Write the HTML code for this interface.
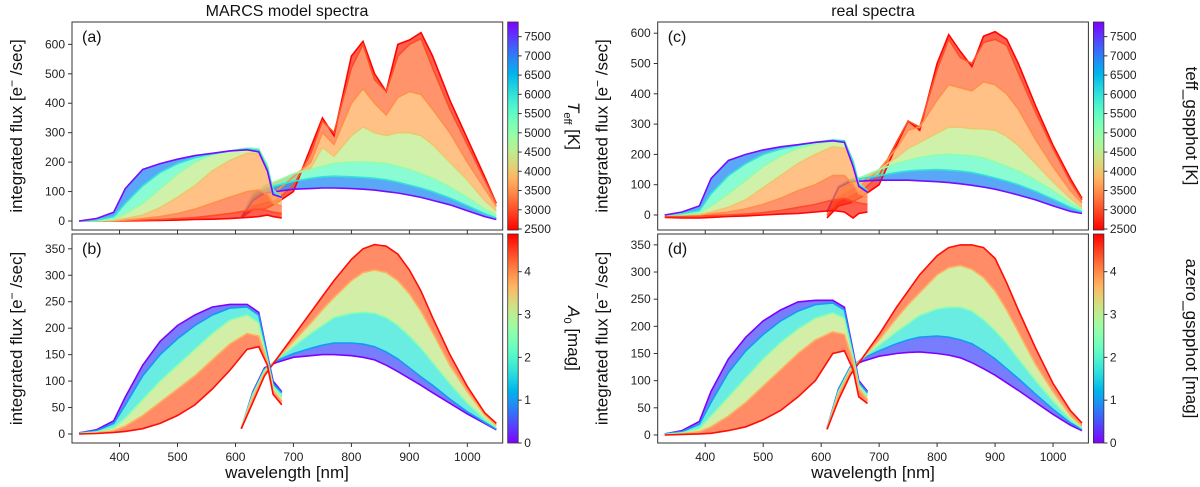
<!DOCTYPE html>
<html><head><meta charset="utf-8">
<style>
html,body{margin:0;padding:0;background:#fff;}
svg{display:block;font-family:"Liberation Sans","DejaVu Sans",sans-serif;}
</style></head>
<body>
<svg id="fig" width="1200" height="487" viewBox="0 0 1200 487" xmlns="http://www.w3.org/2000/svg">
<defs>
<linearGradient id="cbTeff" x1="0" y1="1" x2="0" y2="0"></linearGradient>
<linearGradient id="cbA0" x1="0" y1="1" x2="0" y2="0"></linearGradient>
</defs>
<text x="287" y="16" font-size="16" text-anchor="middle" fill="#111">MARCS model spectra</text>
<text x="873" y="16" font-size="16" text-anchor="middle" fill="#111">real spectra</text>
<text x="287" y="478" font-size="17" text-anchor="middle" fill="#111">wavelength [nm]</text>
<text x="873" y="478" font-size="17" text-anchor="middle" fill="#111">wavelength [nm]</text>
</svg>
<script>
// ---- shared grids ----
const bpWave = [330,360,390,410,440,470,500,530,560,590,620,640,655,665,680];
const rpWave = [610,630,650,670,700,730,750,770,800,820,840,860,880,900,920,940,970,1000,1030,1050];
const xTicks = [400,500,600,700,800,900,1000];
const teffTicks = [2500,3000,3500,4000,4500,5000,5500,6000,6500,7000,7500];
const a0Ticks = [0,1,2,3,4];
const fluxTicksTop = [0,100,200,300,400,500,600];
const fluxTicksBot = [0,50,100,150,200,250,300,350];

// ---- panel (a) MARCS, Teff ----
const aTeff = [2500,3000,3500,4000,5000,6000,7800];
const aBP = [
 [0,0,0,0,1,2,3,5,6,8,12,15,20,15,10],
 [0,0,0,1,3,5,8,12,18,25,35,40,35,30,25],
 [0,0,1,3,8,15,25,40,60,80,100,105,90,60,50],
 [0,0,2,8,20,45,80,120,170,205,230,230,180,100,75],
 [0,1,5,25,60,110,160,200,225,238,248,245,190,105,80],
 [0,3,15,60,120,165,195,215,228,238,245,240,180,100,80],
 [0,8,30,110,175,195,210,222,230,238,242,235,170,90,80]];
const aRP = [
 [10,40,40,60,100,250,350,290,560,610,500,440,600,615,640,560,410,280,150,60],
 [12,50,60,70,120,230,340,300,520,600,480,440,560,600,620,520,380,260,140,60],
 [15,70,90,100,150,200,300,260,400,450,400,360,420,440,430,380,300,200,110,50],
 [15,90,120,130,160,180,250,220,290,320,300,290,300,300,290,260,200,140,70,35],
 [12,90,120,135,160,175,185,195,200,200,198,195,185,175,160,145,115,80,40,18],
 [12,80,110,120,135,145,150,152,150,148,145,140,132,122,112,100,78,52,25,10],
 [10,70,95,100,108,110,112,112,110,108,105,100,95,88,80,70,55,35,15,5]];

// ---- panel (b) MARCS, A0 ----
const bA0 = [0,1,2.5,3.7,4.8];
const bBP = [
 [2,8,25,70,130,175,205,225,240,245,245,230,150,100,80],
 [2,6,20,55,110,150,180,205,225,238,240,225,148,95,78],
 [1,4,12,30,65,100,130,160,190,215,225,210,140,90,70],
 [0,2,6,15,35,60,85,110,140,170,190,185,135,82,62],
 [0,1,3,5,10,20,35,55,85,120,160,165,130,75,55]];
const bRP = [
 [10,80,125,135,145,148,150,150,148,145,140,130,118,105,92,78,58,38,20,8],
 [11,78,123,138,152,162,168,172,172,170,165,155,142,125,108,92,66,42,22,9],
 [12,75,120,140,165,190,205,220,228,230,228,220,205,185,162,135,95,58,28,12],
 [11,68,115,140,175,210,235,258,290,305,310,305,290,265,232,192,130,80,36,16],
 [10,60,110,140,185,230,260,290,330,350,358,355,340,310,270,220,150,90,40,20]];

// ---- panel (c) real, Teff ----
const cTeff = [2500,3000,3500,4000,5000,6000,7800];
const cBP = [
 [-8,-10,-10,-8,-5,-3,0,3,5,10,15,10,-10,5,10],
 [-5,-5,-3,-2,0,3,8,15,25,35,50,55,45,40,35],
 [0,0,1,4,10,20,35,55,80,100,130,130,100,70,60],
 [0,0,2,10,25,50,90,130,170,200,225,220,170,100,75],
 [0,2,6,30,70,115,160,195,220,235,245,240,180,105,80],
 [0,5,15,70,130,170,200,218,230,240,248,245,175,100,80],
 [0,10,30,120,180,200,215,225,232,240,245,240,160,95,75]];
const cRP = [
 [-10,30,40,60,100,230,310,280,500,595,540,490,590,605,580,500,360,230,120,55],
 [0,40,60,80,130,240,310,290,480,580,520,500,570,580,560,470,340,220,110,50],
 [5,60,80,100,150,220,280,290,380,430,420,410,440,430,400,350,250,160,80,40],
 [10,80,105,115,150,190,220,240,270,290,290,285,285,280,260,230,170,110,55,25],
 [12,95,118,125,150,170,180,190,198,200,198,195,188,175,160,145,115,80,40,18],
 [12,95,115,120,130,140,145,148,150,148,145,140,132,122,112,100,78,52,25,10],
 [10,90,110,112,115,115,115,113,110,107,103,98,92,85,76,66,50,30,12,5]];

// ---- panel (d) real, A0 ----
const dA0 = [0,1,2.5,3.7,4.8];
const dBP = [
 [2,8,25,80,140,180,210,230,245,248,248,235,155,100,80],
 [2,6,20,60,115,155,185,210,228,240,243,230,150,97,78],
 [1,4,12,35,70,105,140,170,195,215,225,215,145,92,72],
 [0,2,6,15,35,60,90,120,150,175,190,185,135,85,65],
 [0,1,2,3,8,15,28,45,70,100,150,155,120,70,58]];
const dRP = [
 [12,85,125,135,145,150,152,153,150,147,142,133,122,110,96,82,60,38,18,8],
 [12,85,125,140,155,168,175,180,182,180,175,168,155,140,122,104,75,47,22,10],
 [12,80,122,140,165,190,205,220,232,235,235,228,212,192,168,140,100,62,28,12],
 [11,75,118,140,175,215,240,262,295,308,312,305,290,265,230,190,130,80,36,16],
 [10,65,110,140,185,235,265,295,330,345,350,350,345,325,280,230,160,95,45,22]];

const NS = "http://www.w3.org/2000/svg";
const svg = document.getElementById('fig');
function mk(tag, attrs, parent){
  const e = document.createElementNS(NS, tag);
  for (const k in attrs) e.setAttribute(k, attrs[k]);
  (parent||svg).appendChild(e);
  return e;
}
function rainbow(x){
  x = Math.max(0, Math.min(1, x));
  const r = Math.min(1, Math.abs(2*x-0.5));
  const g = Math.sin(Math.PI*x);
  const b = Math.cos(Math.PI*x/2);
  return `rgb(${Math.round(r*255)},${Math.round(g*255)},${Math.round(b*255)})`;
}
const TEFF_MIN = 2474, TEFF_MAX = 7880, A0_MIN = 0, A0_MAX = 4.88;
function teffColor(t){ return rainbow(1 - (t-TEFF_MIN)/(TEFF_MAX-TEFF_MIN)); }
function a0Color(a){ return rainbow((a-A0_MIN)/(A0_MAX-A0_MIN)); }

(function(){
  const gT = document.getElementById('cbTeff');
  const gA = document.getElementById('cbA0');
  for (let i=0;i<=20;i++){
    const f = i/20;
    mk('stop', {offset: f, 'stop-color': rainbow(1-f)}, gT);
    mk('stop', {offset: f, 'stop-color': rainbow(f)}, gA);
  }
})();

const XMIN = 318, XMAX = 1061, PW = 430.7;

function panel(o){
  const g = mk('g', {});
  
  
  const sx = v => o.x0 + (v - XMIN) / (XMAX - XMIN) * PW;
  const sy = v => o.y1 - (v - o.ymin) / (o.ymax - o.ymin) * (o.y1 - o.y0);
  const clipId = 'clip-' + o.name;
  const cp = mk('clipPath', {id: clipId}, g);
  mk('rect', {x:o.x0, y:o.y0, width:PW, height:o.y1-o.y0}, cp);
  const plot = mk('g', {'clip-path': `url(#${clipId})`}, g);
  
  

  function pts(wave, arr){ return wave.map((w,i)=> sx(w).toFixed(1)+','+sy(arr[i]).toFixed(1)); }
  function drawBand(wave, curves, params, bandName){
    for (let i=0;i<curves.length-1;i++){
      const p = pts(wave, curves[i]).concat(pts(wave, curves[i+1]).reverse());
      const f = mk('polygon', {points: p.join(' '), fill: o.color((params[i]+params[i+1])/2), 'fill-opacity': 0.75, stroke:'none'}, plot);
      
      
    }
    curves.forEach((c,i)=>{
      const l = mk('polyline', {points: pts(wave, c).join(' '), fill:'none', stroke: o.color(params[i]), 'stroke-width': 1.6}, plot);
      
      
    });
  }
  drawBand(rpWave, o.rp, o.params, 'rp');
  drawBand(bpWave, o.bp, o.params, 'bp');

  const fr = mk('rect', {x:o.x0, y:o.y0, width:PW, height:o.y1-o.y0, fill:'none', stroke:'#333', 'stroke-width':1}, g);
  
  
  xTicks.forEach(t=>{
    const x = sx(t);
    const tk = mk('line', {x1:x, x2:x, y1:o.y1, y2:o.y1+4, stroke:'#333'}, g);
    
    
    if (o.xlabels){
      const tl = mk('text', {x:x, y:o.y1+18, 'font-size':12, 'text-anchor':'middle', fill:'#222'}, g);
      tl.textContent = t;
      
      
    }
  });
  o.yticks.forEach(t=>{
    const y = sy(t);
    const tk = mk('line', {x1:o.x0-4, x2:o.x0, y1:y, y2:y, stroke:'#333'}, g);
    
    
    const tl = mk('text', {x:o.x0-7, y:y+4, 'font-size':12, 'text-anchor':'end', fill:'#222'}, g);
    tl.textContent = t;
    
    
  });
  const lt = mk('text', {x:o.x0+10, y:o.y0+20, 'font-size':16, fill:'#111'}, g);
  lt.textContent = o.letter;
  
  
  const cy = (o.y0+o.y1)/2;
  const yl = mk('text', {x:0, y:0, 'font-size':17, 'text-anchor':'middle', fill:'#111', transform:`translate(${o.x0-50},${cy}) rotate(-90)`}, g);
  yl.innerHTML = 'integrated flux [e<tspan dy="-6" font-size="12">−</tspan><tspan dy="6"> /sec]</tspan>';
  
  

  const cbx = o.x0 + PW + 5, cbw = 10.5;
  const cb = mk('rect', {x:cbx, y:o.y0, width:cbw, height:o.y1-o.y0, fill:`url(#${o.grad})`, stroke:'#333', 'stroke-width':0.8}, g);
  
  
  const cs = v => o.y1 - (v - o.cmin)/(o.cmax - o.cmin) * (o.y1 - o.y0);
  o.cticks.forEach(t=>{
    const y = cs(t);
    const tk = mk('line', {x1:cbx+cbw, x2:cbx+cbw+3.5, y1:y, y2:y, stroke:'#333'}, g);
    
    
    const tl = mk('text', {x:cbx+cbw+6, y:y+4, 'font-size':12, fill:'#222'}, g);
    tl.textContent = t;
    
    
  });
  const cl = mk('text', {x:0, y:0, 'font-size':17, 'text-anchor':'middle', fill:'#111', transform:`translate(${o.cbLabelX},${cy}) rotate(90)`}, g);
  cl.innerHTML = o.cbLabel;
  
  
}

panel({name:'panel-a', letter:'(a)', x0:72, y0:22, y1:230, ymin:-30.6, ymax:676, yticks:fluxTicksTop, xlabels:false,
  bp:aBP, rp:aRP, params:aTeff, color:teffColor, grad:'cbTeff', cmin:TEFF_MIN, cmax:TEFF_MAX, cticks:teffTicks,
  cbLabelX:568, cbLabel:'<tspan font-style="italic">T</tspan><tspan font-size="11" dy="4">eff</tspan><tspan dy="-4"> [K]</tspan>'});
panel({name:'panel-b', letter:'(b)', x0:72, y0:234, y1:443, ymin:-17, ymax:378, yticks:fluxTicksBot, xlabels:true,
  bp:bBP, rp:bRP, params:bA0, color:a0Color, grad:'cbA0', cmin:A0_MIN, cmax:A0_MAX, cticks:a0Ticks,
  cbLabelX:568, cbLabel:'<tspan font-style="italic">A</tspan><tspan font-size="11" dy="4">0</tspan><tspan dy="-4"> [mag]</tspan>'});
panel({name:'panel-c', letter:'(c)', x0:657.7, y0:22, y1:230, ymin:-49.5, ymax:637, yticks:fluxTicksTop, xlabels:false,
  bp:cBP, rp:cRP, params:cTeff, color:teffColor, grad:'cbTeff', cmin:TEFF_MIN, cmax:TEFF_MAX, cticks:teffTicks,
  cbLabelX:1186, cbLabel:'teff_gspphot [K]'});
panel({name:'panel-d', letter:'(d)', x0:657.7, y0:234, y1:443, ymin:-14.8, ymax:370, yticks:fluxTicksBot, xlabels:true,
  bp:dBP, rp:dRP, params:dA0, color:a0Color, grad:'cbA0', cmin:A0_MIN, cmax:A0_MAX, cticks:a0Ticks,
  cbLabelX:1186, cbLabel:'azero_gspphot [mag]'});
</script>
</body></html>
